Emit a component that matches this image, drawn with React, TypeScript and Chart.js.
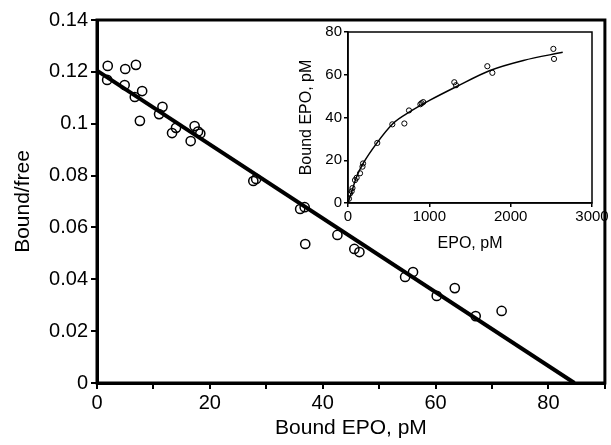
import React, { useEffect, useRef } from "react";
import { Chart, registerables } from "chart.js";

Chart.register(...registerables);

// Main Scatchard plot data
const mainBound = [1.9, 1.8, 5.0, 6.9, 4.9, 6.7, 8.0, 7.6, 11.0, 11.6, 13.3, 14.0, 16.6, 17.3, 17.9, 18.3, 27.7, 28.2, 36.0, 36.8, 36.9, 42.6, 45.6, 46.5, 54.6, 56.0, 60.2, 63.4, 67.1, 71.7];
const mainRatio = [0.1223, 0.1169, 0.1211, 0.1227, 0.1149, 0.1103, 0.1126, 0.1011, 0.1037, 0.1065, 0.0964, 0.0984, 0.0933, 0.0991, 0.097, 0.0962, 0.0779, 0.0787, 0.0671, 0.0678, 0.0536, 0.0571, 0.0517, 0.0505, 0.0409, 0.0428, 0.0336, 0.0366, 0.0258, 0.0278];
const fitBound = [0, 84.6];
const fitRatio = [0.1205, 0];
const mainXTickLabels = ["0", "", "20", "", "40", "", "60", "", "80", ""];
const mainYTickLabels = ["0", "0.02", "0.04", "0.06", "0.08", "0.1", "0.12", "0.14"];

// Inset saturation plot data
const insetFree = [12, 25, 45, 55, 86, 106, 148, 178, 185, 360, 545, 693, 750, 890, 905, 925, 1307, 1328, 1713, 1775, 2525, 2533];
const insetBound = [2.0, 4.4, 5.5, 7.0, 10.7, 11.8, 13.9, 17.0, 18.5, 28.1, 36.8, 37.2, 43.3, 46.2, 46.7, 47.2, 56.5, 55.1, 64.0, 60.9, 72.1, 67.4];
const curveFree = [0, 45, 106, 188, 352, 557, 762, 1008, 1336, 1746, 2156, 2640];
const curveBound = [0, 5.3, 12.3, 18.6, 27.9, 37.3, 42.7, 48.1, 54.5, 62.0, 66.7, 70.5];
const insetXTickLabels = ["0", "1000", "2000", "3000"];
const insetYTickLabels = ["0", "20", "40", "60", "80"];

const FONT = "'Liberation Sans', Arial, Helvetica, sans-serif";

const boxPlugin = (w: number) => ({
  id: "boxFrame" + w,
  afterDraw(chart: any) {
    const { ctx, chartArea } = chart;
    ctx.save();
    ctx.strokeStyle = "#000";
    ctx.lineWidth = w;
    ctx.strokeRect(chartArea.left, chartArea.top, chartArea.right - chartArea.left, chartArea.bottom - chartArea.top);
    ctx.restore();
  },
});

export default function App() {
  const mainRef = useRef<HTMLCanvasElement>(null);
  const insetRef = useRef<HTMLCanvasElement>(null);

  useEffect(() => {
    const main = new Chart(mainRef.current!, {
      type: "scatter",
      data: {
        datasets: [
          {
            type: "scatter",
            data: mainBound.map((x, i) => ({ x, y: mainRatio[i] })),
            pointRadius: 4.6,
            pointBorderWidth: 1.5,
            pointBorderColor: "#000",
            pointBackgroundColor: "rgba(0,0,0,0)",
            order: 2,
          },
          {
            type: "line",
            data: fitBound.map((x, i) => ({ x, y: fitRatio[i] })),
            borderColor: "#000",
            borderWidth: 4,
            pointRadius: 0,
            fill: false,
            order: 1,
          } as any,
        ],
      },
      options: {
        responsive: false,
        animation: false,
        layout: { padding: { top: 20, right: 6, left: 0, bottom: 0 } },
        plugins: { legend: { display: false }, tooltip: { enabled: false } },
        scales: {
          x: {
            type: "linear",
            min: 0,
            max: 90,
            afterFit: (s: any) => { s.height = 62; },
            ticks: {
              stepSize: 10,
              color: "#000",
              font: { family: FONT, size: 20 },
              padding: 2,
              maxRotation: 0,
              callback: (_v: any, i: number) => mainXTickLabels[i],
            },
            grid: { display: true, drawOnChartArea: false, drawTicks: true, tickLength: 6, color: "#000", lineWidth: 2 },
            border: { display: true, color: "#000", width: 3 },
            title: { display: true, text: "Bound EPO, pM", color: "#000", font: { family: FONT, size: 21 }, padding: { top: 0, bottom: 4 } },
          },
          y: {
            type: "linear",
            min: 0,
            max: 0.14,
            afterFit: (s: any) => { s.width = 97; },
            ticks: {
              stepSize: 0.02,
              color: "#000",
              font: { family: FONT, size: 20 },
              padding: 3,
              callback: (_v: any, i: number) => mainYTickLabels[i],
            },
            grid: { display: true, drawOnChartArea: false, drawTicks: true, tickLength: 6, color: "#000", lineWidth: 2 },
            border: { display: true, color: "#000", width: 3 },
            title: { display: true, text: "Bound/free", color: "#000", font: { family: FONT, size: 21 }, padding: { top: 11, bottom: 0 } },
          },
        },
      },
      plugins: [boxPlugin(3)],
    } as any);

    const inset = new Chart(insetRef.current!, {
      type: "scatter",
      data: {
        datasets: [
          {
            type: "scatter",
            data: insetFree.map((x, i) => ({ x, y: insetBound[i] })),
            pointRadius: 2.6,
            pointBorderWidth: 1,
            pointBorderColor: "#000",
            pointBackgroundColor: "rgba(0,0,0,0)",
            order: 2,
          },
          {
            type: "line",
            data: curveFree.map((x, i) => ({ x, y: curveBound[i] })),
            borderColor: "#000",
            borderWidth: 1.5,
            pointRadius: 0,
            fill: false,
            cubicInterpolationMode: "monotone",
            order: 1,
          } as any,
        ],
      },
      options: {
        responsive: false,
        animation: false,
        layout: { padding: { top: 12, right: 19, left: 0, bottom: 0 } },
        plugins: { legend: { display: false }, tooltip: { enabled: false } },
        scales: {
          x: {
            type: "linear",
            min: 0,
            max: 3000,
            afterFit: (s: any) => { s.height = 57; },
            ticks: {
              stepSize: 1000,
              color: "#000",
              font: { family: FONT, size: 15 },
              padding: 1,
              maxRotation: 0,
              callback: (_v: any, i: number) => insetXTickLabels[i],
            },
            grid: { display: true, drawOnChartArea: false, drawTicks: true, tickLength: 4, color: "#000", lineWidth: 1.5 },
            border: { display: true, color: "#000", width: 1.5 },
            title: { display: true, text: "EPO, pM", color: "#000", font: { family: FONT, size: 16 }, padding: { top: 0, bottom: 7 } },
          },
          y: {
            type: "linear",
            min: 0,
            max: 80,
            afterFit: (s: any) => { s.width = 58; },
            ticks: {
              stepSize: 20,
              color: "#000",
              font: { family: FONT, size: 15 },
              padding: 2,
              callback: (_v: any, i: number) => insetYTickLabels[i],
            },
            grid: { display: true, drawOnChartArea: false, drawTicks: true, tickLength: 4, color: "#000", lineWidth: 1.5 },
            border: { display: true, color: "#000", width: 1.5 },
            title: { display: true, text: "Bound EPO, pM", color: "#000", font: { family: FONT, size: 16 }, padding: { top: 7, bottom: 0 } },
          },
        },
      },
      plugins: [boxPlugin(1.5)],
    } as any);

    return () => {
      main.destroy();
      inset.destroy();
    };
  }, []);

  return (
    <div style={{ position: "absolute", left: 0, top: 0, width: 611, height: 445, background: "#fff", overflow: "hidden" }}>
      <canvas ref={mainRef} width={611} height={445} style={{ position: "absolute", left: 0, top: 0, width: 611, height: 445 }} />
      <canvas ref={insetRef} width={321} height={240} style={{ position: "absolute", left: 290, top: 20, width: 321, height: 240 }} />
    </div>
  );
}
